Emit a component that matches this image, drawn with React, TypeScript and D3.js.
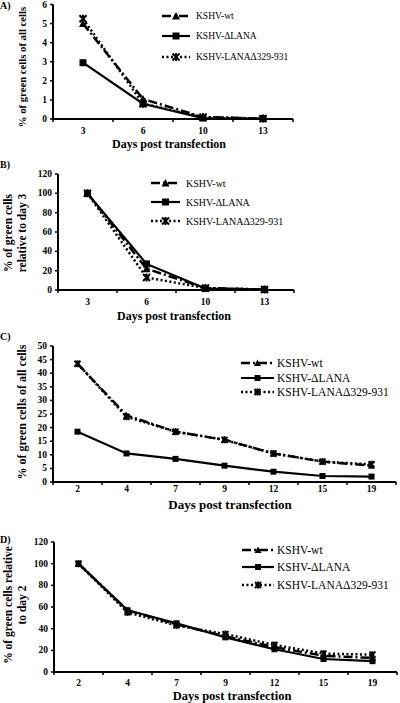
import React from "react";
import * as d3 from "d3";

// ---------- DATA ----------
const daysAB = ["3", "6", "10", "13"];
const daysCD = ["2", "4", "7", "9", "12", "15", "19"];

const seriesNames = ["KSHV-wt", "KSHV-\u0394LANA", "KSHV-LANA\u0394329-931"];

// Panel A: % of green cells of all cells
const aWt = [5.0, 1.05, 0.1, 0.02];
const aDLana = [2.95, 0.8, 0.05, 0.02];
const aLana329 = [5.25, 0.8, 0.1, 0.02];
const aTicks = [0, 1, 2, 3, 4, 5, 6];

// Panel B: % relative to day 3
const bWt = [100, 22, 2, 0.5];
const bDLana = [100, 27, 1.5, 0.5];
const bLana329 = [100, 13, 2, 0.5];
const bTicks = [0, 20, 40, 60, 80, 100, 120];

// Panel C: % of green cells of all cells
const cWt = [43.5, 24.5, 18.5, 15.5, 10.5, 7.5, 6.0];
const cDLana = [18.5, 10.5, 8.5, 6.0, 3.8, 2.2, 2.0];
const cLana329 = [43.5, 24.0, 18.5, 15.5, 10.5, 7.5, 6.5];
const cTicks = [0, 5, 10, 15, 20, 25, 30, 35, 40, 45, 50];

// Panel D: % relative to day 2
const dWt = [100, 57, 44, 33, 23, 15, 13];
const dDLana = [100, 57, 45, 32, 21, 12, 10];
const dLana329 = [100, 55, 43, 35, 25, 17, 16];
const dTicks = [0, 20, 40, 60, 80, 100, 120];

// ---------- COMPONENTS ----------
const FONT = "'Liberation Serif', 'Times New Roman', serif";

type Layout = {
  letter: string;
  letterY: number;
  x0: number;
  x1: number;
  yTop: number;
  yBot: number;
  tickFont: number;
  tickLabelY: number;
  titleFont: number;
  titleX: number;
  titleY: number;
  yLabel: string[];
  yLabelX: number[];
  yLabelY: number;
  yLabelFont: number;
  legLx0: number;
  legLx1: number;
  legTx: number;
  legYs: number[];
  legFont: number;
  markerSize: number;
};

const styles = [
  { dash: "9,3,2,3", width: 2.5, marker: "tri" },
  { dash: "", width: 2.2, marker: "sq" },
  { dash: "2,2.5", width: 2.5, marker: "ast" },
];

function Marker({ kind, x, y, s }: { kind: string; x: number; y: number; s: number }) {
  const h = s / 2;
  if (kind === "tri") {
    const p = d3.path();
    p.moveTo(x, y - h - 0.5);
    p.lineTo(x + h + 0.5, y + h);
    p.lineTo(x - h - 0.5, y + h);
    p.closePath();
    return <path d={p.toString()} fill="#000" />;
  }
  if (kind === "sq") {
    return <rect x={x - h} y={y - h} width={s} height={s} fill="#000" />;
  }
  const p = d3.path();
  p.moveTo(x - h, y - h);
  p.lineTo(x + h, y + h);
  p.moveTo(x - h, y + h);
  p.lineTo(x + h, y - h);
  p.moveTo(x, y - h - 0.5);
  p.lineTo(x, y + h + 0.5);
  return <path d={p.toString()} stroke="#000" strokeWidth={2} fill="none" />;
}

function Panel({
  L,
  days,
  data,
  ticks,
}: {
  L: Layout;
  days: string[];
  data: number[][];
  ticks: number[];
}) {
  const x = d3.scaleBand<string>().domain(days).range([L.x0, L.x1]);
  const bw = x.bandwidth();
  const cx = (d: string) => (x(d) as number) + bw / 2;
  const y = d3
    .scaleLinear()
    .domain([0, ticks[ticks.length - 1]])
    .range([L.yBot, L.yTop]);
  const line = d3
    .line<number>()
    .x((_, i) => cx(days[i]))
    .y((v) => y(v));
  const order = [1, 0, 2];
  const tickXs = days.map((d) => x(d) as number).concat([L.x1]);
  return (
    <g fontFamily={FONT}>
      <text x={0} y={L.letterY} fontSize={10} fontWeight="bold">
        {L.letter}
      </text>
      {/* axes */}
      <line x1={L.x0} x2={L.x0} y1={L.yTop} y2={L.yBot} stroke="#000" strokeWidth={2} />
      <line x1={L.x0 - 1} x2={L.x1} y1={L.yBot} y2={L.yBot} stroke="#000" strokeWidth={2} />
      {ticks.map((t) => (
        <g key={t}>
          <line x1={L.x0 - 3} x2={L.x0} y1={y(t)} y2={y(t)} stroke="#000" strokeWidth={1.5} />
          <text
            x={L.x0 - 6}
            y={y(t)}
            fontSize={L.tickFont}
            fontWeight="bold"
            textAnchor="end"
            dominantBaseline="central"
          >
            {t}
          </text>
        </g>
      ))}
      {tickXs.map((tx, i) => (
        <line key={i} x1={tx} x2={tx} y1={L.yBot} y2={L.yBot + 3} stroke="#000" strokeWidth={1.5} />
      ))}
      {days.map((d) => (
        <text
          key={d}
          x={cx(d)}
          y={L.tickLabelY}
          fontSize={L.tickFont}
          fontWeight="bold"
          textAnchor="middle"
        >
          {d}
        </text>
      ))}
      <text x={L.titleX} y={L.titleY} fontSize={L.titleFont} fontWeight="bold" textAnchor="middle">
        Days post transfection
      </text>
      {L.yLabel.map((s, i) => (
        <text
          key={i}
          transform={`translate(${L.yLabelX[i]},${L.yLabelY}) rotate(-90)`}
          fontSize={L.yLabelFont}
          fontWeight="bold"
          textAnchor="middle"
          dominantBaseline="central"
        >
          {s}
        </text>
      ))}
      {/* series */}
      {order.map((si) => (
        <g key={si}>
          <path
            d={line(data[si]) as string}
            fill="none"
            stroke="#000"
            strokeWidth={styles[si].width}
            strokeDasharray={styles[si].dash || undefined}
          />
          {data[si].map((v, i) => (
            <Marker key={i} kind={styles[si].marker} x={cx(days[i])} y={y(v)} s={L.markerSize} />
          ))}
        </g>
      ))}
      {/* legend */}
      {seriesNames.map((n, i) => (
        <g key={n}>
          <line
            x1={L.legLx0}
            x2={L.legLx1}
            y1={L.legYs[i]}
            y2={L.legYs[i]}
            stroke="#000"
            strokeWidth={styles[i].width}
            strokeDasharray={styles[i].dash || undefined}
          />
          <Marker
            kind={styles[i].marker}
            x={(L.legLx0 + L.legLx1) / 2}
            y={L.legYs[i]}
            s={L.markerSize}
          />
          <text x={L.legTx} y={L.legYs[i]} fontSize={L.legFont} dominantBaseline="central">
            {n}
          </text>
        </g>
      ))}
    </g>
  );
}

const LA: Layout = {
  letter: "A)",
  letterY: 9,
  x0: 53,
  x1: 293,
  yTop: 4.5,
  yBot: 119,
  tickFont: 9.5,
  tickLabelY: 134,
  titleFont: 12,
  titleX: 169,
  titleY: 148,
  yLabel: ["% of green cells of all cells"],
  yLabelX: [22],
  yLabelY: 67,
  yLabelFont: 10.7,
  legLx0: 162,
  legLx1: 190,
  legTx: 196,
  legYs: [16, 36, 57],
  legFont: 9.5,
  markerSize: 7,
};

const LB: Layout = {
  letter: "B)",
  letterY: 168,
  x0: 58,
  x1: 294,
  yTop: 174,
  yBot: 290,
  tickFont: 9.5,
  tickLabelY: 305,
  titleFont: 12,
  titleX: 174,
  titleY: 320,
  yLabel: ["% of green cells", "relative to day 3"],
  yLabelX: [8, 22],
  yLabelY: 233,
  yLabelFont: 11.5,
  legLx0: 151,
  legLx1: 180,
  legTx: 186,
  legYs: [183, 202, 221],
  legFont: 10,
  markerSize: 7,
};

const LC: Layout = {
  letter: "C)",
  letterY: 340,
  x0: 53,
  x1: 396,
  yTop: 346,
  yBot: 482,
  tickFont: 9.5,
  tickLabelY: 492,
  titleFont: 13,
  titleX: 230,
  titleY: 509,
  yLabel: ["% of green cells of all cells"],
  yLabelX: [22],
  yLabelY: 412,
  yLabelFont: 12,
  legLx0: 241,
  legLx1: 274,
  legTx: 277,
  legYs: [363, 378, 392],
  legFont: 11.5,
  markerSize: 6,
};

const LD: Layout = {
  letter: "D)",
  letterY: 543,
  x0: 54,
  x1: 397,
  yTop: 542,
  yBot: 672,
  tickFont: 9.5,
  tickLabelY: 686,
  titleFont: 12.5,
  titleX: 232,
  titleY: 700,
  yLabel: ["% of green cells relative", "to day 2"],
  yLabelX: [8, 22],
  yLabelY: 605,
  yLabelFont: 11.5,
  legLx0: 242,
  legLx1: 274,
  legTx: 277,
  legYs: [550, 567, 585],
  legFont: 11.5,
  markerSize: 6,
};

export default function App() {
  return (
    <svg
      width={400}
      height={703}
      style={{ position: "absolute", left: 0, top: 0, background: "#fff" }}
    >
      <rect width={400} height={703} fill="#fff" />
      <Panel L={LA} days={daysAB} data={[aWt, aDLana, aLana329]} ticks={aTicks} />
      <Panel L={LB} days={daysAB} data={[bWt, bDLana, bLana329]} ticks={bTicks} />
      <Panel L={LC} days={daysCD} data={[cWt, cDLana, cLana329]} ticks={cTicks} />
      <Panel L={LD} days={daysCD} data={[dWt, dDLana, dLana329]} ticks={dTicks} />
    </svg>
  );
}
